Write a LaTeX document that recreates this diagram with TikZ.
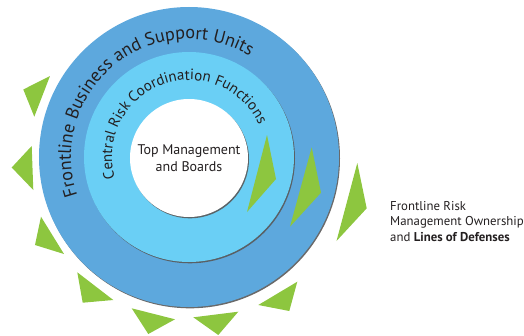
\documentclass[tikz,border=0pt]{standalone}
\usepackage{fontspec}
\setmainfont{PT Sans}
\usetikzlibrary{decorations.text,shadows}
\definecolor{unitblue}{RGB}{93,168,221}
\definecolor{riskblue}{RGB}{106,207,245}
\definecolor{leaf}{RGB}{141,198,63}
\definecolor{ink}{RGB}{35,31,32}
\begin{document}
\begin{tikzpicture}[x=1pt,y=1pt,color=ink,
  ring/.style={circle,inner sep=0pt,drop shadow={shadow xshift=1pt,shadow yshift=-1.3pt,fill=black!65,opacity=.9}},
  wedge/.style={fill=leaf,line join=round}]
\useasboundingbox (-189,-178) rectangle (335,157);
% the three rings
\node(units) [ring,fill=unitblue,minimum size=300pt] at (0,0) {};
\node(risk) [ring,fill=riskblue,minimum size=210pt] at (0,0) {};
\node(board) [ring,fill=white,minimum size=118pt,align=center,font=\fontsize{14}{16.5}\selectfont] at (0,-1) {Top Management\\and Boards};

% ring labels, run clockwise from the left
\path[decorate,decoration={text along path,text align=left,text color=ink,
  text={|\fontsize{18.2}{18.2}\selectfont|Frontline Business and Support Units}}]
  (199:118) arc[start angle=199,end angle=20,radius=118];
\path[decorate,decoration={text along path,text align=left,text color=ink,
  text={|\fontsize{15}{15}\selectfont|Central Risk Coordination Functions}}]
  (196:77) arc[start angle=196,end angle=-10,radius=77];

% wedges inside the rings
\fill[wedge] (78,22) -- (87,-22) -- (58,-55) -- cycle;
\fill[wedge] (122.7,9.7) -- (132,-35.7) -- (101,-69.7) -- cycle;
% wedges round the outside
\fill[wedge] (168.3,-6) -- (177.7,-51.3) -- (147.5,-84) -- cycle;
\fill[wedge] (108.3,-124.7) -- (100.3,-154) -- (69.3,-148) -- cycle;
\fill[wedge] (49.3,-154.7) -- (29.3,-178) -- (4.3,-160.3) -- cycle;
\fill[wedge] (-14,-162.3) -- (-40.7,-177) -- (-57.3,-151.3) -- cycle;
\fill[wedge] (-75.7,-143) -- (-106.3,-145.7) -- (-111.7,-115.3) -- cycle;
\fill[wedge] (-125,-97) -- (-154,-88) -- (-148,-59.7) -- cycle;
\fill[wedge] (-155.7,-33) -- (-177.3,-10.5) -- (-157.3,11) -- cycle;
\fill[wedge] (-154.7,40.3) -- (-165.7,67.5) -- (-139,81) -- cycle;

\node(lines) [anchor=north west,align=left,inner sep=0pt,font=\fontsize{12.8}{15.5}\selectfont] at (201,-44) {Frontline Risk\\Management Ownership\\and \textbf{Lines of Defenses}};
\end{tikzpicture}
\end{document}
